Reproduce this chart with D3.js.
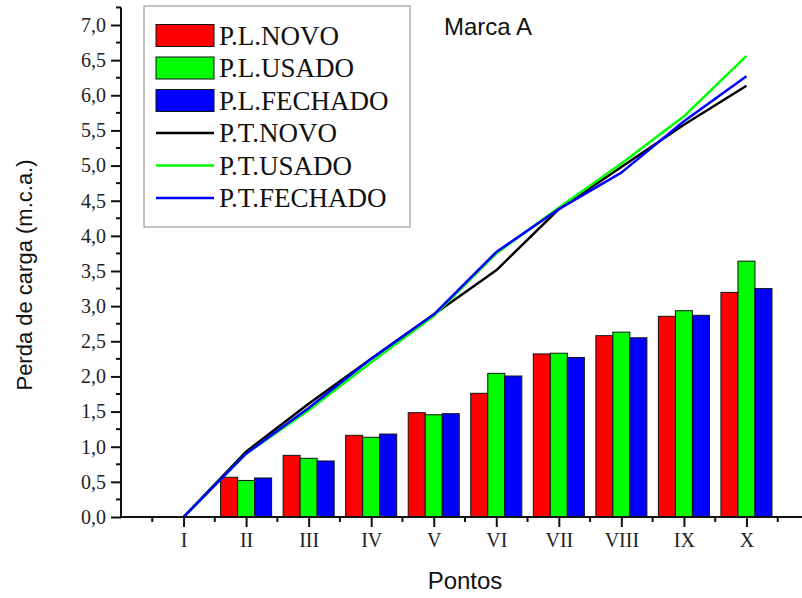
<!DOCTYPE html>
<html>
<head>
<meta charset="utf-8">
<script src="https://cdn.jsdelivr.net/npm/d3@7"></script>
<style>
  html, body { margin: 0; padding: 0; background: #fff; }
  svg { display: block; }
</style>
</head>
<body>
<svg id="chart" width="802" height="598"></svg>
<script>
// Measurement points
const pontos = ["I", "II", "III", "IV", "V", "VI", "VII", "VIII", "IX", "X"];

// Localised head loss (bars), m.c.a.
const plNovo    = [0, 0.565, 0.877, 1.162, 1.484, 1.76, 2.32, 2.58, 2.855, 3.196];
const plUsado   = [0, 0.52, 0.835, 1.134, 1.455, 2.044, 2.33, 2.63, 2.935, 3.64];
const plFechado = [0, 0.555, 0.797, 1.18, 1.47, 2.006, 2.27, 2.55, 2.87, 3.25];

// Total head loss (lines), m.c.a.
const ptNovo    = [0, 0.93, 1.61, 2.25, 2.88, 3.51, 4.38, 4.98, 5.58, 6.135];
const ptUsado   = [0, 0.9, 1.52, 2.2, 2.86, 3.75, 4.4, 5.03, 5.7, 6.56];
const ptFechado = [0, 0.9, 1.55, 2.25, 2.88, 3.77, 4.38, 4.9, 5.63, 6.27];

const yTicks = [0, 0.5, 1, 1.5, 2, 2.5, 3, 3.5, 4, 4.5, 5, 5.5, 6, 6.5, 7];

const barSeries = [
  { name: "P.L.NOVO", values: plNovo, color: "#ff0000" },
  { name: "P.L.USADO", values: plUsado, color: "#00ff00" },
  { name: "P.L.FECHADO", values: plFechado, color: "#0000ff" }
];
const lineSeries = [
  { name: "P.T.NOVO", values: ptNovo, color: "#000000" },
  { name: "P.T.USADO", values: ptUsado, color: "#00ff00" },
  { name: "P.T.FECHADO", values: ptFechado, color: "#0000ff" }
];

const svg = d3.select("#chart");

// Category i (0-based) sits at position i+1 on a continuous axis running 0..11
const x = d3.scaleLinear().domain([0, 11]).range([121, 809]);
const y = d3.scaleLinear().domain([0, 7]).range([517, 25]);
const barW = 0.272; // in category units

const serif = "'Liberation Serif', 'Times New Roman', serif";
const sans = "'Liberation Sans', Arial, sans-serif";

// Bars
const gBars = svg.append("g");
barSeries.forEach((s, k) => {
  gBars.selectAll(null)
    .data(s.values.map((v, i) => ({ v, i })).filter(d => d.v > 0))
    .join("rect")
    .attr("x", d => x(d.i + 1 + (k - 1.5) * barW))
    .attr("width", d => x(d.i + 1 + (k - 0.5) * barW) - x(d.i + 1 + (k - 1.5) * barW))
    .attr("y", d => y(d.v))
    .attr("height", d => y(0) - y(d.v))
    .attr("fill", s.color)
    .attr("stroke", "#111")
    .attr("stroke-width", 1);
});

// Lines
const line = d3.line()
  .x((d, i) => x(i + 1))
  .y(d => y(d));
const gLines = svg.append("g");
lineSeries.forEach(s => {
  gLines.append("path")
    .datum(s.values)
    .attr("d", line)
    .attr("fill", "none")
    .attr("stroke", s.color)
    .attr("stroke-width", 2.5)
    .attr("stroke-linejoin", "round");
});

// Y axis: major ticks every 0.5, minor ticks between
const fmt = v => d3.format(".1f")(v).replace(".", ",");
const yAxisG = svg.append("g").attr("transform", `translate(${x(0)},0)`);
yAxisG.call(d3.axisLeft(y).tickValues(yTicks).tickFormat(fmt).tickSize(10).tickSizeOuter(0).tickPadding(5));
const yMinor = d3.range(0.25, 7.3, 0.5);
yAxisG.selectAll(".minor").data(yMinor).join("line")
  .attr("class", "minor")
  .attr("x1", -5).attr("x2", 0)
  .attr("y1", d => y(d)).attr("y2", d => y(d))
  .attr("stroke", "#111").attr("stroke-width", 2);
yAxisG.select(".domain").attr("d", `M0,${y(0)}V${y(7.25)}`);

// X axis: major tick at each point, minor half-way
const xAxisG = svg.append("g").attr("transform", `translate(0,${y(0)})`);
xAxisG.call(d3.axisBottom(x)
  .tickValues(d3.range(1, 11))
  .tickFormat(d => pontos[d - 1])
  .tickSize(10).tickSizeOuter(0).tickPadding(6));
xAxisG.selectAll(".minor").data(d3.range(0.5, 11, 1)).join("line")
  .attr("class", "minor")
  .attr("x1", d => x(d)).attr("x2", d => x(d))
  .attr("y1", 0).attr("y2", 5)
  .attr("stroke", "#111").attr("stroke-width", 2);
xAxisG.select(".domain").attr("d", `M${x(0)},0H${x(11)}`);

[yAxisG, xAxisG].forEach(g => {
  g.select(".domain").attr("stroke", "#111").attr("stroke-width", 2);
  g.selectAll(".tick line").attr("stroke", "#111").attr("stroke-width", 2);
  g.selectAll(".tick text")
    .attr("font-family", serif)
    .attr("font-size", 20)
    .attr("fill", "#222");
});

// Axis titles
svg.append("text")
  .attr("transform", `translate(32,${(y(0) + y(7)) / 2 + 4}) rotate(-90)`)
  .attr("text-anchor", "middle")
  .attr("font-family", sans)
  .attr("font-size", 22)
  .attr("fill", "#111")
  .text("Perda de carga (m.c.a.)");

svg.append("text")
  .attr("x", 465).attr("y", 589)
  .attr("text-anchor", "middle")
  .attr("font-family", sans)
  .attr("font-size", 24)
  .attr("fill", "#111")
  .text("Pontos");

svg.append("text")
  .attr("x", 444).attr("y", 35)
  .attr("font-family", sans)
  .attr("font-size", 24)
  .attr("fill", "#111")
  .text("Marca A");

// Legend
const legend = svg.append("g");
legend.append("rect")
  .attr("x", 144).attr("y", 6)
  .attr("width", 266).attr("height", 221)
  .attr("fill", "#fff")
  .attr("stroke", "#888")
  .attr("stroke-width", 1);

const entries = barSeries.map(s => ({ ...s, kind: "bar" }))
  .concat(lineSeries.map(s => ({ ...s, kind: "line" })));
entries.forEach((e, i) => {
  const cy = 35.5 + i * 32.5;
  if (e.kind === "bar") {
    legend.append("rect")
      .attr("x", 156).attr("y", cy - 11)
      .attr("width", 58).attr("height", 22)
      .attr("fill", e.color)
      .attr("stroke", "#111").attr("stroke-width", 1);
  } else {
    legend.append("line")
      .attr("x1", 156).attr("x2", 214)
      .attr("y1", cy).attr("y2", cy)
      .attr("stroke", e.color).attr("stroke-width", 2.5);
  }
  legend.append("text")
    .attr("x", 219).attr("y", cy + 9)
    .attr("font-family", serif)
    .attr("font-size", 27)
    .attr("fill", "#111")
    .text(e.name);
});
</script>
</body>
</html>
